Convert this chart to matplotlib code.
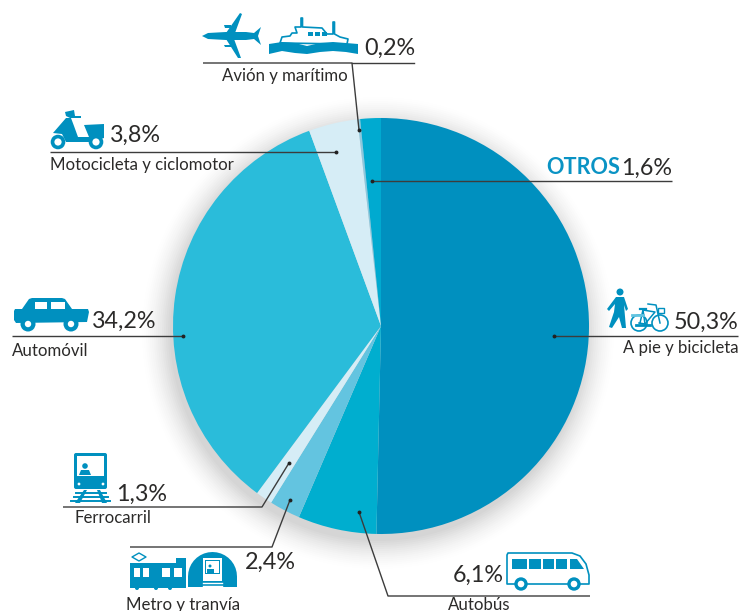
import numpy as np
import matplotlib
matplotlib.use('Agg')
import matplotlib.pyplot as plt
from matplotlib.patches import Polygon, Circle, Rectangle, FancyBboxPatch

plt.rcParams['font.family'] = ['Lato', 'DejaVu Sans']

categories = ['A pie y bicicleta', 'Autobús', 'Metro y tranvía', 'Ferrocarril',
              'Automóvil', 'Motocicleta y ciclomotor', 'Avión y marítimo', 'Otros']
shares = [50.3, 6.1, 2.4, 1.3, 34.2, 3.8, 0.2, 1.6]
share_labels = ['50,3%', '6,1%', '2,4%', '1,3%', '34,2%', '3,8%', '0,2%', '1,6%']
colors = ['#0090bf', '#00aecf', '#63c4e0', '#d6edf6', '#2abcda', '#d6edf6', '#8cc8de', '#00aad0']

BLUE = '#0090bf'
DARK = '#2b2a29'
LINE = '#3c3c3c'
PCT = 16.8
LAB = 12.1

fig = plt.figure(figsize=(7.41, 6.11), dpi=100)
ax = fig.add_axes([0, 0, 1, 1])

# soft shadow, a bit lower-left of the pie
for r, a in zip(np.arange(236, 206, -2), np.linspace(0.003, 0.03, 15)):
    ax.add_patch(Circle((378, 333), r, fc='#606060', ec='none', alpha=a, zorder=1))

# y axis runs downward so everything is in picture pixels, so angles flip too
wedges, _ = ax.pie(shares, colors=colors, startangle=-90, counterclock=True,
                   center=(381, 326), radius=208, wedgeprops={'zorder': 2, 'linewidth': 0})
ax.set_xlim(0, 741)
ax.set_ylim(611, 0)
ax.set_aspect('equal')
ax.axis('off')


def leader(xs, ys, dot=True):
    ax.plot(xs, ys, color=LINE, lw=1.0, zorder=4, solid_capstyle='butt')
    if dot:
        ax.plot(xs[0], ys[0], 'o', color='#222222', ms=2.8, zorder=5, mew=0)


def poly(pts, fc=BLUE, ec='none', lw=0, z=6):
    ax.add_patch(Polygon(pts, closed=True, fc=fc, ec=ec, lw=lw, zorder=z, joinstyle='round'))


def rect(x0, y0, x1, y1, fc='white', z=7):
    ax.add_patch(Rectangle((x0, y0), x1 - x0, y1 - y0, fc=fc, ec='none', zorder=z))


def circ(x, y, r, fc=BLUE, ec='none', lw=0, z=7):
    ax.add_patch(Circle((x, y), r, fc=fc, ec=ec, lw=lw, zorder=z))


def wheel(x, y, r, hole):
    circ(x, y, r, z=8)
    circ(x, y, hole, fc='white', z=9)


def pct(x, y, s):
    ax.text(x, y, s, fontsize=PCT, color=DARK, ha='center', va='center', zorder=6)


def lab(x, y, s, ha='center'):
    ax.text(x, y, s, fontsize=LAB, color=DARK, ha=ha, va='baseline', zorder=6)


leader([359, 352, 203], [130, 63, 63])
ax.plot([352, 414], [63, 63], color=LINE, lw=1.0, zorder=4)
leader([372, 672], [181, 181])
leader([336, 50], [151.5, 151.5])
leader([183, 12], [336, 336])
leader([554, 738], [336, 336])
leader([289, 262, 63], [463, 507, 507])
leader([290, 272, 130], [500, 547, 547])
leader([359, 388, 590], [512, 596, 596])

pct(390, 48, share_labels[6])
lab(285, 81, categories[6])
pct(135, 135, share_labels[5])
lab(50, 170, categories[5], ha='left')
pct(124, 321, share_labels[4])
lab(12, 356, categories[4], ha='left')
pct(142, 494, share_labels[3])
lab(75, 523, categories[3], ha='left')
pct(270, 562, share_labels[2])
lab(183, 610, categories[2])
pct(478, 575, share_labels[1])
lab(479, 610, categories[1])
pct(706, 322, share_labels[0])
lab(681, 353, categories[0])
ax.text(546, 168, 'OTROS', fontsize=15.6, fontweight='bold', color='#0a93c4', ha='left', va='center', zorder=6)
pct(647, 168, share_labels[7])

# plane
poly([(202, 36), (208, 33), (226, 32), (246, 32), (254, 33), (261, 27), (258, 36), (261, 45),
      (254, 39), (246, 40), (226, 40), (208, 39)])
poly([(226, 33), (240, 13), (242, 14), (235, 33)])
poly([(226, 39), (234, 39), (241, 58), (238, 58)])
poly([(224, 25), (231, 25), (231, 28), (225, 28)])
poly([(224, 45), (231, 45), (231, 47), (225, 47)])

# ship
poly([(280, 43), (282, 37), (290, 36), (292, 33), (297, 33), (295, 27), (301, 27), (301, 18), (302.5, 18),
      (302.5, 27), (322, 28), (327, 34), (333, 34), (333, 22), (334.5, 22), (334.5, 34), (340, 37),
      (348, 39), (347, 44)],
     fc='white', ec=BLUE, lw=1.2)
rect(308, 32, 313, 36, fc=BLUE)
rect(315, 32, 320, 36, fc=BLUE)
rect(322, 32, 327, 36, fc=BLUE)
poly([(269, 44), (282, 42), (295, 43), (307, 46), (320, 43), (333, 42), (346, 43), (358, 44),
      (358, 54), (346, 52), (333, 51), (320, 52), (307, 54), (295, 53), (282, 51), (269, 54)], z=8)

# scooter
wheel(58, 142, 7.3, 3.6)
wheel(96, 142, 7.3, 3.6)
poly([(65, 112), (74, 110), (75, 116), (81, 116), (81, 118), (70, 118), (66, 116)])
poly([(66, 118), (71, 118), (74, 126), (78, 137), (89, 137), (84, 125), (104, 124), (104, 138),
      (90, 142), (66, 142), (62, 134), (53, 133)])

# car
poly([(22, 309), (29, 299), (32, 298), (62, 298), (65, 299), (72, 309)])
rect(35, 302, 47, 309)
rect(51, 302, 65, 309)
poly([(15, 309), (88, 309), (89, 312), (87, 322), (16, 323), (14, 320), (14, 311)])
wheel(28, 324, 7.5, 3.2)
wheel(71, 324, 7.5, 3.2)

# train
ax.add_patch(FancyBboxPatch((74, 453), 33, 36, boxstyle='round,pad=0,rounding_size=2', fc=BLUE, ec='none', zorder=6))
rect(77, 456, 104, 476)
circ(85, 466, 2.8, z=8)
poly([(79, 475), (81, 470), (89, 470), (91, 475)], z=8)
circ(79, 484, 1.4, fc='white')
circ(103, 484, 1.4, fc='white')
for y, x0, x1 in [(493, 76, 106), (497, 74, 108), (501, 71, 110)]:
    ax.plot([x0, x1], [y, y], color=BLUE, lw=1.4, zorder=6)
poly([(84, 490), (87, 490), (80, 503), (75, 503)])
poly([(97, 490), (100, 490), (107, 503), (102, 503)])

# metro + tram in tunnel
poly([(139, 553), (146, 557), (139, 561), (132, 557)], fc='white', ec=BLUE, lw=1)
poly([(130, 563), (176, 563), (176, 558), (186, 558), (186, 588), (130, 588)])
for x0, x1 in [(134, 140), (143, 149), (162, 170), (174, 182)]:
    rect(x0, 568, x1, 577)
for x0 in [137, 156, 170]:
    circ(x0, 588, 2, fc=BLUE)
theta = np.radians(np.arange(180, 361, 10))
poly(np.column_stack([212.5 + 24.5 * np.cos(theta), 576.5 + 24.5 * np.sin(theta)]).tolist()
     + [(237, 587), (188, 587)])
rect(203, 558, 222, 581)
rect(205, 560, 220, 574, fc=BLUE, z=8)
rect(206, 561, 219, 573, z=8)
circ(210, 566, 1.5, z=9)
rect(207, 568.5, 214, 573, fc=BLUE, z=9)
for y in [583, 586]:
    ax.plot([203, 222], [y, y], color='white', lw=1, zorder=8)

# bus
poly([(508, 553), (572, 553), (580, 556), (586, 564), (589, 575), (589, 584), (507, 584), (507, 555)],
     fc='white', ec=BLUE, lw=1.2)
for x0, x1 in [(512, 527), (529, 541), (543, 554), (556, 567)]:
    rect(x0, 559, x1, 569, fc=BLUE)
poly([(570, 559), (577, 559), (584, 569), (570, 569)], z=7)
wheel(521, 584, 6.7, 3.3)
wheel(574, 584, 6.7, 3.3)

# pedestrian and bicycle
circ(620, 292, 3.5)
poly([(616, 297), (624, 297), (628, 309), (626, 311), (624, 305), (626, 328), (622, 328), (619, 317),
      (612, 328), (609, 327), (614, 312), (615, 304), (609, 311), (607, 309)])
for x0, y0 in [(639, 323), (660, 323)]:
    circ(x0, y0, 8, fc='white', ec=BLUE, lw=1.2)
ax.plot([639, 645, 655, 643], [323, 324, 312, 310], color=BLUE, lw=1.1, zorder=8)
ax.plot([645, 643, 640], [324, 310, 323], color=BLUE, lw=1.1, zorder=8)
ax.plot([648, 656, 660], [304, 305, 323], color=BLUE, lw=1.1, zorder=8)
ax.plot([632, 643], [315, 315], color='#63c4e0', lw=2, zorder=8)
ax.plot([640, 646], [309, 309], color=BLUE, lw=1.6, zorder=8)
ax.plot([636, 650], [325, 325], color=BLUE, lw=2, zorder=8)
ax.add_patch(Rectangle((658, 308), 6, 5, fc='none', ec=BLUE, lw=1, zorder=8))

plt.savefig('out.png', dpi=100)
